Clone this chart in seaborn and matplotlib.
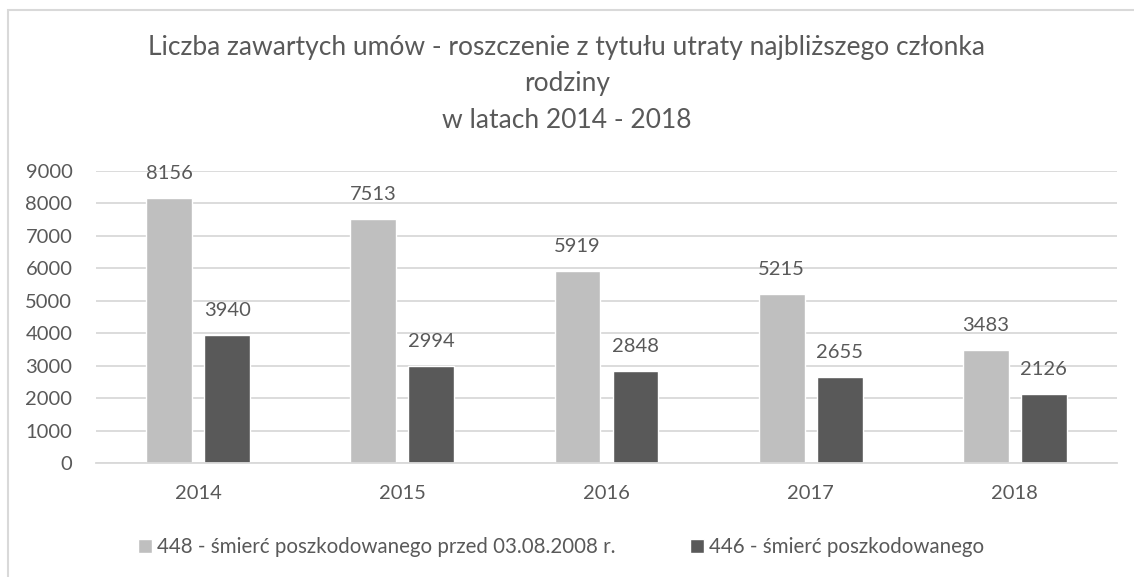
import matplotlib
matplotlib.use("Agg")
import matplotlib.pyplot as plt
import seaborn as sns
import pandas as pd
from matplotlib.patches import Rectangle

years = ["2014", "2015", "2016", "2017", "2018"]
series_names = ["448 - śmierć poszkodowanego przed 03.08.2008 r.", "446 - śmierć poszkodowanego"]
values_448 = [8156, 7513, 5919, 5215, 3483]
values_446 = [3940, 2994, 2848, 2655, 2126]
yticks = [0, 1000, 2000, 3000, 4000, 5000, 6000, 7000, 8000, 9000]
title = "Liczba zawartych umów - roszczenie z tytułu utraty najbliższego członka\nrodziny\nw latach 2014 - 2018"

df = pd.DataFrame({
    "year": years * 2,
    "series": [series_names[0]] * len(years) + [series_names[1]] * len(years),
    "value": values_448 + values_446,
})

sns.set_theme(style="white")
plt.rcParams["font.family"] = ["Lato", "DejaVu Sans"]
TXT = "#595959"

fig = plt.figure(figsize=(11.34, 5.77), dpi=100)
ax = fig.add_axes([96/1134, 1 - 463/577, (1117-96)/1134, (463-170.7)/577])

sns.barplot(data=df, x="year", y="value", hue="series", order=years, hue_order=series_names,
            palette=["#BFBFBF", "#595959"], width=0.568, gap=0.207, ax=ax, legend=False,
            saturation=1, errorbar=None)

ax.set_ylim(0, 9000)
ax.set_xlim(-0.5, len(years) - 0.5)
ax.set_yticks(yticks)
ax.set_yticklabels([str(t) for t in yticks])
ax.yaxis.grid(True, color="#D9D9D9", linewidth=1.3)
ax.set_axisbelow(True)
for s in ["top", "right", "left"]:
    ax.spines[s].set_visible(False)
ax.spines["bottom"].set_color("#D9D9D9")
ax.spines["bottom"].set_linewidth(1.3)
ax.set_xlabel("")
ax.set_ylabel("")
ax.tick_params(axis="both", length=0, labelsize=14.5, colors=TXT)
ax.tick_params(axis="y", pad=17)
ax.tick_params(axis="x", pad=16)

for c in ax.containers:
    ax.bar_label(c, fmt="%d", padding=11.5, fontsize=14.5, color=TXT)

title_centers_px = [47, 84, 120]
for line, yc in zip(title.split("\n"), title_centers_px):
    fig.text(0.5, 1 - yc/577, line, ha="center", va="center", fontsize=19, color=TXT)

handles = [Rectangle((0, 0), 1, 1, facecolor=c) for c in ["#BFBFBF", "#595959"]]
leg = fig.legend(handles, series_names, loc="center", bbox_to_anchor=(561/1134, 1 - 547/577), ncol=2,
                 frameon=False, fontsize=14.8, handlelength=0.7, handleheight=0.7,
                 handletextpad=0.25, columnspacing=3.6, labelcolor=TXT)

fig.patches.append(Rectangle((7.5/1134, -0.1), 2, 1 - 9.5/577 + 0.1, transform=fig.transFigure,
                             facecolor="none", edgecolor="#D9D9D9", linewidth=1.5))

fig.savefig("out.png", dpi=100)
